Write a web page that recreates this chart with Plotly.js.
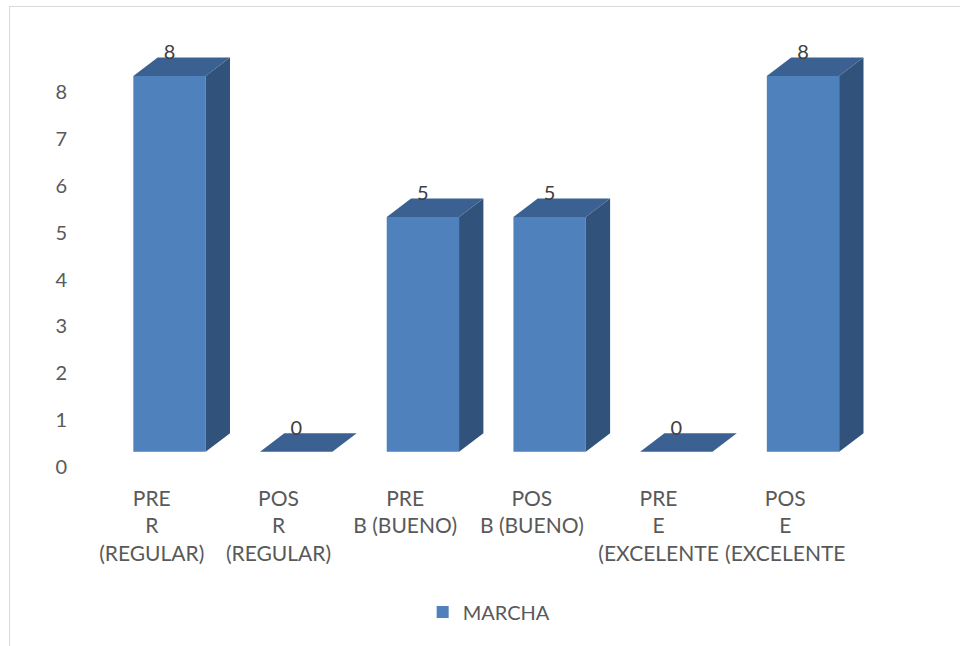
<!DOCTYPE html>
<html>
<head>
<meta charset="utf-8">
<script src="https://cdn.plot.ly/plotly-3.0.1.min.js"></script>
<style>
  html, body { margin: 0; padding: 0; background: #ffffff; }
  #wrap { position: relative; width: 960px; height: 646px; overflow: hidden; }
  #frame { position: absolute; left: 9px; top: 6px; right: -2px; bottom: -2px;
           border-left: 1px solid #d9d9d9; border-top: 1px solid #d9d9d9; pointer-events: none; }
  #chart { position: absolute; left: 0; top: 0; width: 960px; height: 646px; }
</style>
</head>
<body>
<div id="wrap">
  <div id="chart"></div>
  <div id="frame"></div>
</div>
<script>
// Category labels (one per bar) and the MARCHA series
const categories = [
  'PRE<br>R<br>(REGULAR)',
  'POS<br>R<br>(REGULAR)',
  'PRE<br>B (BUENO)',
  'POS<br>B (BUENO)',
  'PRE<br>E<br>(EXCELENTE',
  'POS<br>E<br>(EXCELENTE'
];
const marcha = [8, 0, 5, 5, 0, 8];
const seriesName = 'MARCHA';
const yTicks = [0, 1, 2, 3, 4, 5, 6, 7, 8];

// 3D box geometry (in axis units)
const barW = 0.571;     // front face width
const depthX = 0.192;   // horizontal depth offset
const depthY = 0.392;   // vertical depth offset
const labelShift = 0.14; // category labels sit a little left of bar fronts

const idx = marcha.map((_, i) => i);

// Top faces and right side faces as filled polygons
const topX = [], topY = [], sideX = [], sideY = [];
idx.forEach(i => {
  const v = marcha[i];
  const l = i - barW / 2, r = i + barW / 2;
  topX.push(l, l + depthX, r + depthX, r, l, null);
  topY.push(v, v + depthY, v + depthY, v, v, null);
  if (v > 0) {
    sideX.push(r, r + depthX, r + depthX, r, r, null);
    sideY.push(0, depthY, v + depthY, v, 0, null);
  }
});

const font = 'Lato, "Open Sans", sans-serif';
const grey = '#595959';

const traces = [
  {
    type: 'bar', name: seriesName, x: idx, y: marcha, width: barW,
    marker: { color: '#4F81BD', line: { width: 0 } },
    xaxis: 'x', yaxis: 'y', hoverinfo: 'skip', showlegend: true
  },
  {
    type: 'scatter', mode: 'lines', x: sideX, y: sideY, fill: 'toself',
    fillcolor: '#31527B', line: { width: 0 }, connectgaps: false,
    hoverinfo: 'skip', showlegend: false
  },
  {
    type: 'scatter', mode: 'lines', x: topX, y: topY, fill: 'toself',
    fillcolor: '#3B6193', line: { width: 0 }, connectgaps: false,
    hoverinfo: 'skip', showlegend: false
  },
  {
    type: 'scatter', mode: 'text', x: idx, y: marcha.map(v => v + depthY + 0.08),
    text: marcha.map(String), textposition: 'middle center',
    textfont: { family: font, size: 20, color: '#404040' },
    hoverinfo: 'skip', showlegend: false
  },
  {
    // invisible companion trace so the value axis is laid out
    type: 'scatter', mode: 'none', x: idx, y: marcha, xaxis: 'x', yaxis: 'y2',
    hoverinfo: 'skip', showlegend: false
  }
];

const layout = {
  width: 960, height: 646,
  margin: { l: 80, r: 60, t: 40, b: 166 },
  paper_bgcolor: 'rgba(0,0,0,0)', plot_bgcolor: 'rgba(0,0,0,0)',
  font: { family: font, color: grey, size: 20 },
  showlegend: true,
  legend: {
    orientation: 'h', x: 0.499, xanchor: 'center', y: -0.3, yanchor: 'middle',
    font: { family: font, size: 20, color: grey }, bgcolor: 'rgba(0,0,0,0)'
  },
  xaxis: {
    range: [-0.7064, 5.7656], showgrid: false, zeroline: false, showline: false,
    ticks: '', tickmode: 'array',
    tickvals: idx.map(i => i - labelShift), ticktext: categories,
    tickfont: { family: font, size: 21, color: grey }, ticklabelstandoff: 4,
    tickangle: 0, fixedrange: true
  },
  yaxis: {
    range: [-0.603, 8.767], showgrid: false, zeroline: false, showline: false,
    showticklabels: false, ticks: '', fixedrange: true
  },
  yaxis2: {
    overlaying: 'y', side: 'left', anchor: 'x',
    range: [-0.284, 9.122], showgrid: false, zeroline: false, showline: false,
    ticks: '', tickmode: 'array', tickvals: yTicks, ticktext: yTicks.map(String),
    tickfont: { family: font, size: 20, color: grey }, ticklabelstandoff: 12,
    fixedrange: true
  }
};

Plotly.newPlot('chart', traces, layout, { staticPlot: true, displayModeBar: false });
</script>
</body>
</html>
